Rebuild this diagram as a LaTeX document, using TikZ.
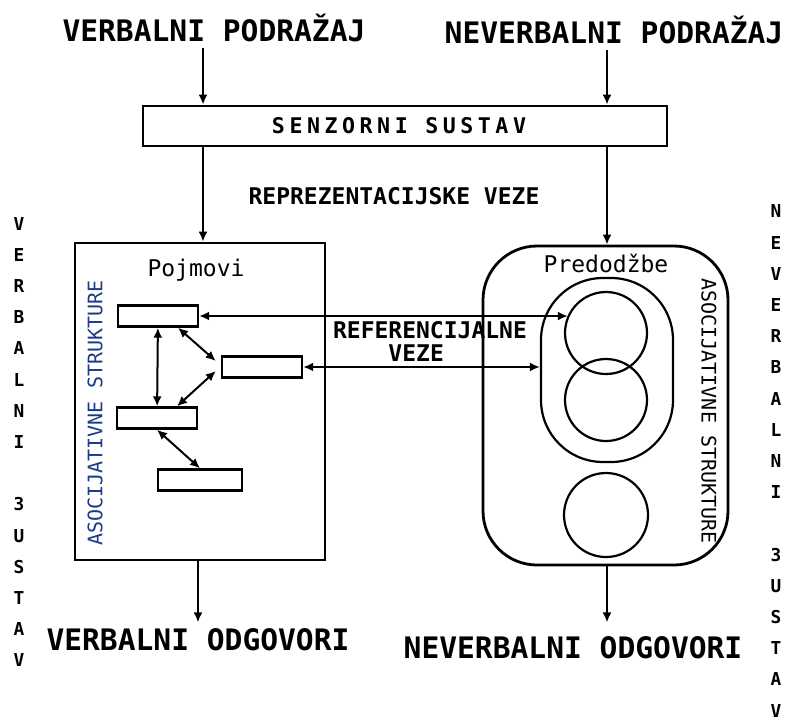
\documentclass[tikz,border=0pt]{standalone}
\usepackage{fontspec}
\setmonofont{DejaVu Sans Mono}
\newfontfamily\sensfont{DejaVu Sans Mono}[LetterSpace=21, UprightFont={* Bold}]
\usepackage{tikz}
\usetikzlibrary{positioning,arrows.meta}
\definecolor{asocblue}{HTML}{1C3A8A}

\begin{document}
\begin{tikzpicture}[x=0.5pt, y=-0.5pt,
  title/.style={font=\ttfamily\bfseries\fontsize{14.8}{16}\selectfont, inner sep=3pt},
  lbl/.style={font=\ttfamily\bfseries\fontsize{11.5}{11.5}\selectfont, inner sep=2pt},
  capt/.style={font=\ttfamily\fontsize{11.5}{12}\selectfont, inner sep=1pt},
  asoc/.style={font=\ttfamily\fontsize{10}{10}\selectfont, inner sep=1pt},
  vcol/.style={font=\ttfamily\bfseries\fontsize{8.9}{15.6}\selectfont, align=center, inner sep=0pt},
  bigbox/.style={draw, line width=1.4pt, inner sep=0pt},
  cbox/.style={draw, line width=1.2pt, minimum width=40pt, minimum height=10.5pt, inner sep=0pt},
  ring/.style={draw, circle, line width=1.1pt, minimum size=41pt, inner sep=0pt},
  arr/.style={-{Latex[length=5pt,width=4.5pt]}, line width=1pt},
  darr/.style={{Latex[length=5pt,width=4.5pt]}-{Latex[length=5pt,width=4.5pt]}, line width=1pt}]
\useasboundingbox (0,0) rectangle (791,719);
% stimuli and sensory system
\node[title] (vstim) at (214,28) {VERBALNI PODRAŽAJ};
\node[title] (nstim) at (614,30) {NEVERBALNI PODRAŽAJ};
\node[bigbox, minimum width=262pt, minimum height=20pt,
      font=\sensfont\fontsize{10.8}{12}\selectfont] (sens) at (405,126) {\hspace*{-6pt}SENZORNI SUSTAV};
\node[lbl] (repr) at (394,196) {REPREZENTACIJSKE VEZE};
\coordinate (vx) at (203,0);
\coordinate (nx) at (607,0);
% verbal system
\node[bigbox, minimum width=125pt, minimum height=158.5pt] (pojm) at (200,401.5) {};
\node[capt] (pojmt) at (196,270) {Pojmovi};
\node[asoc, text=asocblue, rotate=90] (asocl) at (95,413) {ASOCIJATIVNE STRUKTURE};
\node[cbox] (b1) at (158,316) {};
\node[cbox] (b2) at (262,367) {};
\node[cbox] (b3) at (157,418) {};
\node[cbox, minimum width=42pt] (b4) at (200,480) {};
% nonverbal system
\node[bigbox, rounded corners=27pt, minimum width=122.5pt, minimum height=159.5pt] (pred) at (605.5,405.5) {};
\node[capt] (predt) at (606,263) {Predodžbe};
\node[draw, line width=1.1pt, rounded corners=31pt, minimum width=66pt, minimum height=92pt] (oval) at (607,370) {};
\node[ring] (c1) at (606,333) {};
\node[ring] (c2) at (606,400) {};
\node[ring, minimum size=42pt] (c3) at (606,515) {};
\node[asoc, rotate=-90] (asocr) at (709,411) {ASOCIJATIVNE STRUKTURE};
% responses
\node[title] (vresp) at (198,640) {VERBALNI ODGOVORI};
\node[title] (nresp) at (573,648) {NEVERBALNI ODGOVORI};
% side columns
\node[vcol] (vsys) at (19,442) {V\\E\\R\\B\\A\\L\\N\\I\\[15.6pt]3\\U\\S\\T\\A\\V};
\node[vcol] (nsys) at (776,461) {N\\E\\V\\E\\R\\B\\A\\L\\N\\I\\[15.6pt]3\\U\\S\\T\\A\\V};
\node[lbl, align=left] (refv) at (430,341) {REFERENCIJALNE\\\hphantom{REFE}VEZE};
% connectors
\draw[arr] (vstim.south -| vx) -- (sens.north -| vx);
\draw[arr] (nstim.south -| nx) -- (sens.north -| nx);
\draw[arr] (sens.south -| vx) -- (pojm.north -| vx);
\draw[arr] (sens.south -| nx) -- (pred.north -| nx);
\draw[darr] (b1) -- (b3);
\draw[darr] ([xshift=10pt]b1.south) -- ([xshift=-2.5pt,yshift=3pt]b2.west);
\draw[darr] ([xshift=-2.5pt,yshift=-2pt]b2.west) -- ([xshift=10pt]b3.north);
\draw[darr] (b3.south) -- (b4.north);
\draw[darr] (b1.east) -- (b1.east -| c1.155);
\draw[darr] (b2.east) -- (b2.east -| oval.west);
\draw[arr] (pojm.south -| vresp) -- (vresp.north);
\draw[arr] (pred.south -| nx) -- (vresp.north -| nx);
\end{tikzpicture}
\end{document}
